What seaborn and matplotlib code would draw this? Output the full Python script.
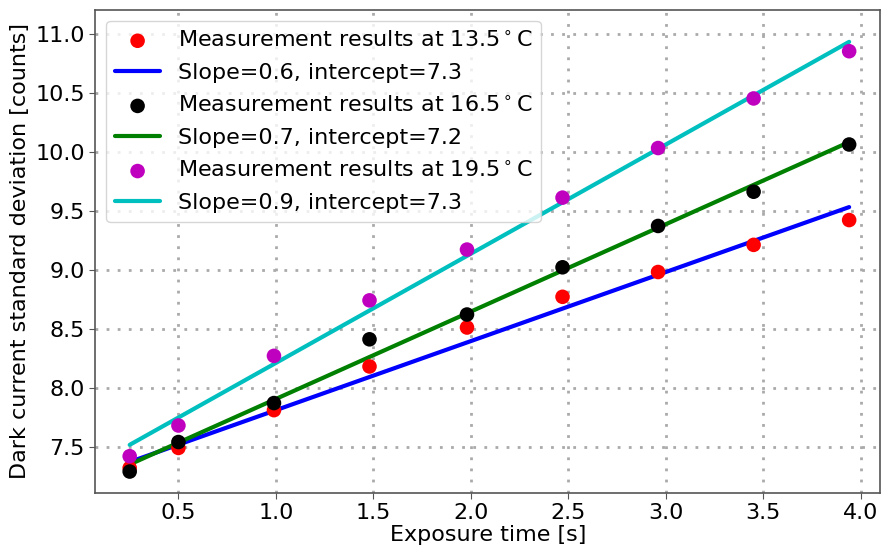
import numpy as np
import pandas as pd
import matplotlib
matplotlib.use("Agg")
import matplotlib.pyplot as plt
import seaborn as sns

exposure = [0.25, 0.50, 0.99, 1.48, 1.98, 2.47, 2.96, 3.45, 3.94]
std_135 = [7.32, 7.49, 7.81, 8.18, 8.51, 8.77, 8.98, 9.21, 9.42]
std_165 = [7.29, 7.54, 7.87, 8.41, 8.62, 9.02, 9.37, 9.66, 10.06]
std_195 = [7.42, 7.68, 8.27, 8.74, 9.17, 9.61, 10.03, 10.45, 10.85]

fit_slopes = [0.585, 0.74, 0.925]
fit_intercepts = [7.225, 7.165, 7.285]
slope_labels = ["Slope=0.6, intercept=7.3", "Slope=0.7, intercept=7.2", "Slope=0.9, intercept=7.3"]
temps = ["13.5", "16.5", "19.5"]
point_colors = ["#ff0000", "#000000", "#bf00bf"]
line_colors = ["#0000ff", "#008000", "#00bfbf"]

sns.set_style("ticks")
plt.rcParams['font.family'] = ['DejaVu Sans']
plt.rcParams['text.color'] = 'black'
plt.rcParams['axes.labelcolor'] = 'black'
plt.rcParams['xtick.color'] = '#555555'
plt.rcParams['ytick.color'] = '#555555'
plt.rcParams['xtick.labelcolor'] = 'black'
plt.rcParams['ytick.labelcolor'] = 'black'

fig, ax = plt.subplots(figsize=(8.83, 5.5), dpi=100)
series = [std_135, std_165, std_195]
x = np.array(exposure)
for i, ys in enumerate(series):
    df = pd.DataFrame({"x": exposure, "y": ys})
    sns.scatterplot(data=df, x="x", y="y", color=point_colors[i], s=110, edgecolor="none",
                    ax=ax, label=f"Measurement results at {temps[i]}$^\\circ$C", zorder=3)
    fx = np.array([x[0], x[-1]])
    fy = fit_slopes[i] * fx + fit_intercepts[i]
    sns.lineplot(x=fx, y=fy, color=line_colors[i], linewidth=3, ax=ax, label=slope_labels[i], zorder=2)

ax.set_xlim(0.074, 4.10)
ax.set_ylim(7.11, 11.2)
ax.set_xticks([0.5, 1.0, 1.5, 2.0, 2.5, 3.0, 3.5, 4.0])
ax.set_yticks([7.5, 8.0, 8.5, 9.0, 9.5, 10.0, 10.5, 11.0])
ax.tick_params(labelsize=16, direction="out", length=4)
ax.grid(True, linestyle=(0, (1, 3)), color="#aaaaaa", linewidth=2)
ax.set_xlabel("Exposure time [s]", fontsize=16, labelpad=1)
ax.set_ylabel("Dark current standard deviation [counts]", fontsize=16)
for sp in ax.spines.values():
    sp.set_color("#555555")
    sp.set_linewidth(1.2)
leg = ax.legend(loc="upper left", fontsize=16, handlelength=2.0, borderpad=0.4, labelspacing=0.55)
fig.subplots_adjust(left=0.108, right=0.997, top=0.982, bottom=0.104)
fig.savefig("out.png", dpi=100)
